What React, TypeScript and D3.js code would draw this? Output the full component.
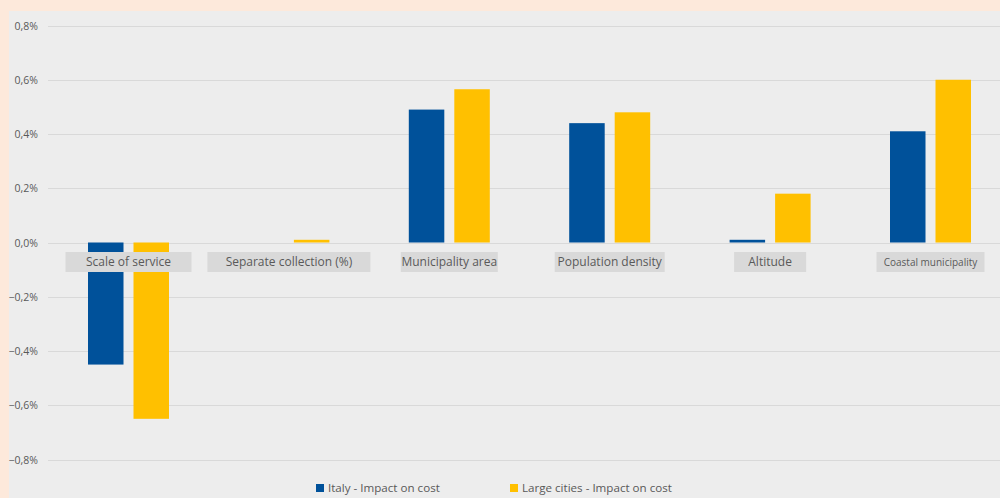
import React from "react";
import * as d3 from "d3";

const categories = [
  "Scale of service",
  "Separate collection (%)",
  "Municipality area",
  "Population density",
  "Altitude",
  "Coastal municipality",
];
const italyImpact = [-0.45, 0.0, 0.49, 0.44, 0.01, 0.41];
const largeCitiesImpact = [-0.65, 0.01, 0.565, 0.48, 0.18, 0.6];
const seriesNames = ["Italy - Impact on cost", "Large cities - Impact on cost"];
const yTicks = [-0.8, -0.6, -0.4, -0.2, 0, 0.2, 0.4, 0.6, 0.8];

const colors = ["#00519A", "#FFC000"];
const labelBoxW = [126, 163, 97, 110, 72, 108];
const labelFont = [12, 12, 12, 12, 12, 10];

const W = 1000;
const H = 498;

export default function App() {
  const x = d3.scaleBand<string>().domain(categories).range([48.3, 1010.7]);
  const y = d3.scaleLinear().domain([-0.8, 0.8]).range([459.5, 25.5]);
  const locale = d3.formatLocale({ decimal: ",", thousands: ".", grouping: [3], currency: ["", "€"] });
  const fmt = (v: number) => locale.format(".1f")(v) + "%";
  const barW = 35.5;
  const gap = 10;
  const series = [italyImpact, largeCitiesImpact];
  const font = "'Open Sans', 'Liberation Sans', sans-serif";

  return (
    <svg width={W} height={H} style={{ position: "absolute", left: 0, top: 0 }} fontFamily={font}>
      <rect x={0} y={0} width={W} height={H} fill="#FDE9DB" />
      <rect x={9} y={11} width={W - 9} height={H - 11} fill="#EDEDED" />
      {yTicks.map((t) => (
        <g key={t}>
          <line x1={48} x2={W} y1={Math.round(y(t)) + 0.5} y2={Math.round(y(t)) + 0.5} stroke="#D9D9D9" strokeWidth={1} />
          <text x={38} y={y(t) + 4} textAnchor="end" fontSize={10.5} fill="#595959">
            {fmt(t)}
          </text>
        </g>
      ))}
      {categories.map((c, i) => {
        const cx = (x(c) as number) + x.bandwidth() / 2;
        return (
          <g key={c}>
            {series.map((s, j) => {
              const v = s[i];
              const bx = cx - gap / 2 - barW + j * (barW + gap);
              const y0 = y(0);
              const y1 = y(v);
              return (
                <rect key={j} x={bx} y={Math.min(y0, y1)} width={barW} height={Math.abs(y1 - y0)} fill={colors[j]} />
              );
            })}
          </g>
        );
      })}
      {categories.map((c, i) => {
        const cx = (x(c) as number) + x.bandwidth() / 2;
        const w = labelBoxW[i];
        return (
          <g key={"l" + c}>
            <rect x={cx - w / 2} y={252} width={w} height={20} fill="#D9D9D9" />
            <text x={cx} y={266} textAnchor="middle" fontSize={labelFont[i]} fill="#595959">
              {c}
            </text>
          </g>
        );
      })}
      {seriesNames.map((n, j) => {
        const lx = [316, 510][j];
        return (
          <g key={n}>
            <rect x={lx} y={484} width={8} height={8} fill={colors[j]} />
            <text x={lx + 12} y={492} fontSize={11.6} fill="#595959">
              {n}
            </text>
          </g>
        );
      })}
    </svg>
  );
}
